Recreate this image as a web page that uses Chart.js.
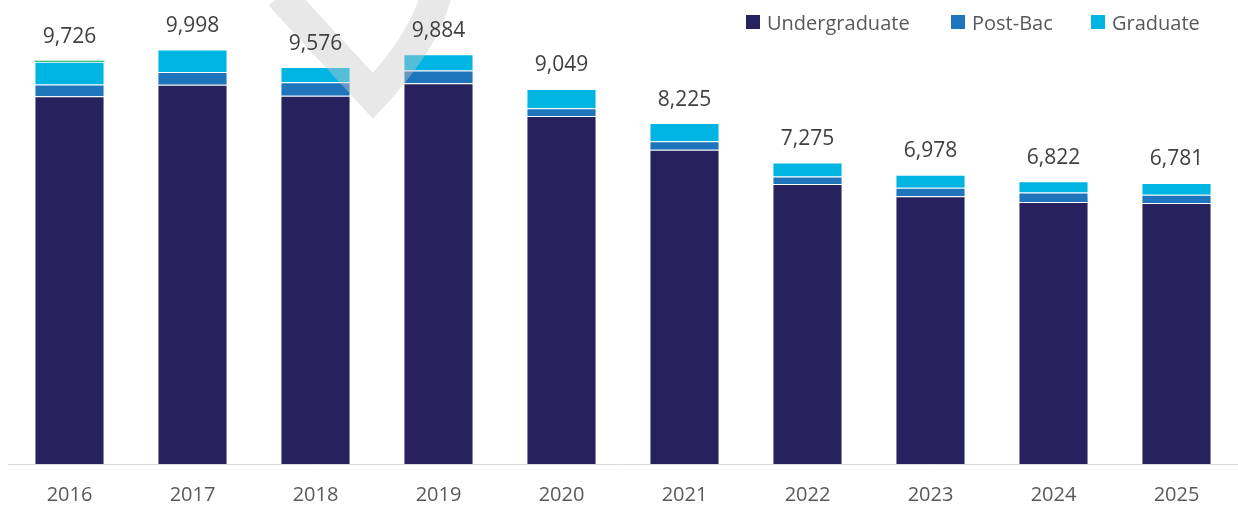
<!DOCTYPE html>
<html>
<head>
<meta charset="utf-8">
<script src="https://cdn.jsdelivr.net/npm/chart.js"></script>
<style>
  body { margin: 0; background: #fff; }
  #wrap { position: relative; width: 1238px; height: 506px; }
  .legend { position: absolute; top: 8px; height: 28px; display: flex; align-items: center;
            font: 20px "Open Sans", sans-serif; color: #595959; white-space: nowrap; }
  .legend i { display: inline-block; width: 14px; height: 14px; margin-right: 7px; }
</style>
</head>
<body>
<div id="wrap">
  <canvas id="enroll" width="1238" height="506"></canvas>
  <div class="legend" style="left:746px"><i style="background:#27215e"></i>Undergraduate</div>
  <div class="legend" style="left:951px"><i style="background:#1e75bb"></i>Post-Bac</div>
  <div class="legend" style="left:1091px"><i style="background:#00b5e2"></i>Graduate</div>
</div>
<script>
// values
const years = ['2016', '2017', '2018', '2019', '2020', '2021', '2022', '2023', '2024', '2025'];
const undergraduate = [8870, 9150, 8882, 9184, 8394, 7582, 6755, 6460, 6318, 6298];
const postBac       = [283, 308, 324, 308, 186, 204, 180, 203, 229, 200];
const graduate      = [551, 540, 370, 392, 469, 439, 340, 315, 275, 283];
const other         = [22, 0, 0, 0, 0, 0, 0, 0, 0, 0];
const totals        = [9726, 9998, 9576, 9884, 9049, 8225, 7275, 6978, 6822, 6781];

// grey check-mark watermark drawn over the bars
const watermark = {
    id: 'watermark',
    afterDatasetsDraw(chart) {
        const ctx = chart.ctx;
        ctx.save();
        ctx.strokeStyle = 'rgba(200, 200, 200, 0.42)';
        ctx.lineWidth = 31;
        ctx.lineJoin = 'miter';
        ctx.beginPath();
        ctx.moveTo(280, -5);
        ctx.lineTo(373, 96);
        ctx.quadraticCurveTo(425, 40, 436, -5);
        ctx.stroke();
        ctx.restore();
    }
};

// total above each bar
const totalLabels = {
    id: 'totalLabels',
    afterDatasetsDraw(chart) {
        const ctx = chart.ctx;
        const meta = chart.getDatasetMeta(0);
        const y = chart.scales.y;
        ctx.save();
        ctx.font = '21px "Open Sans"';
        ctx.fillStyle = '#404040';
        ctx.textAlign = 'center';
        ctx.textBaseline = 'alphabetic';
        totals.forEach((t, i) => {
            ctx.fillText(t.toLocaleString('en-US'), meta.data[i].x, y.getPixelForValue(t) - 17.5);
        });
        ctx.restore();
    }
};

const seg = { top: 1, left: 1, right: 1, bottom: 0 };
const edge = 'rgba(255,255,255,0.2)';

new Chart(document.getElementById('enroll'), {
    type: 'bar',
    data: {
        labels: years,
        datasets: [
            { label: 'Undergraduate', data: undergraduate, backgroundColor: '#27215e', borderColor: edge, borderWidth: seg },
            { label: 'Post-Bac', data: postBac, backgroundColor: '#1e75bb', borderColor: edge, borderWidth: seg },
            { label: 'Graduate', data: graduate, backgroundColor: '#00b5e2', borderColor: edge, borderWidth: seg },
            { label: 'Other', data: other, backgroundColor: '#00a651', borderWidth: 0 }
        ]
    },
    options: {
        responsive: false,
        animation: false,
        devicePixelRatio: 1,
        layout: { padding: { left: 8, right: 0, top: 8, bottom: -20 } },
        datasets: { bar: { categoryPercentage: 1, barPercentage: 0.57 } },
        plugins: {
            legend: { display: false },
            tooltip: { enabled: false }
        },
        scales: {
            x: {
                stacked: true,
                grid: { display: false, drawTicks: false },
                border: { display: true, color: '#d9d9d9', width: 1 },
                ticks: {
                    color: '#595959',
                    font: { family: 'Open Sans', size: 20 },
                    padding: 19
                }
            },
            y: {
                stacked: true,
                display: false,
                min: 0,
                max: 11000
            }
        }
    },
    plugins: [watermark, totalLabels]
});
</script>
</body>
</html>
